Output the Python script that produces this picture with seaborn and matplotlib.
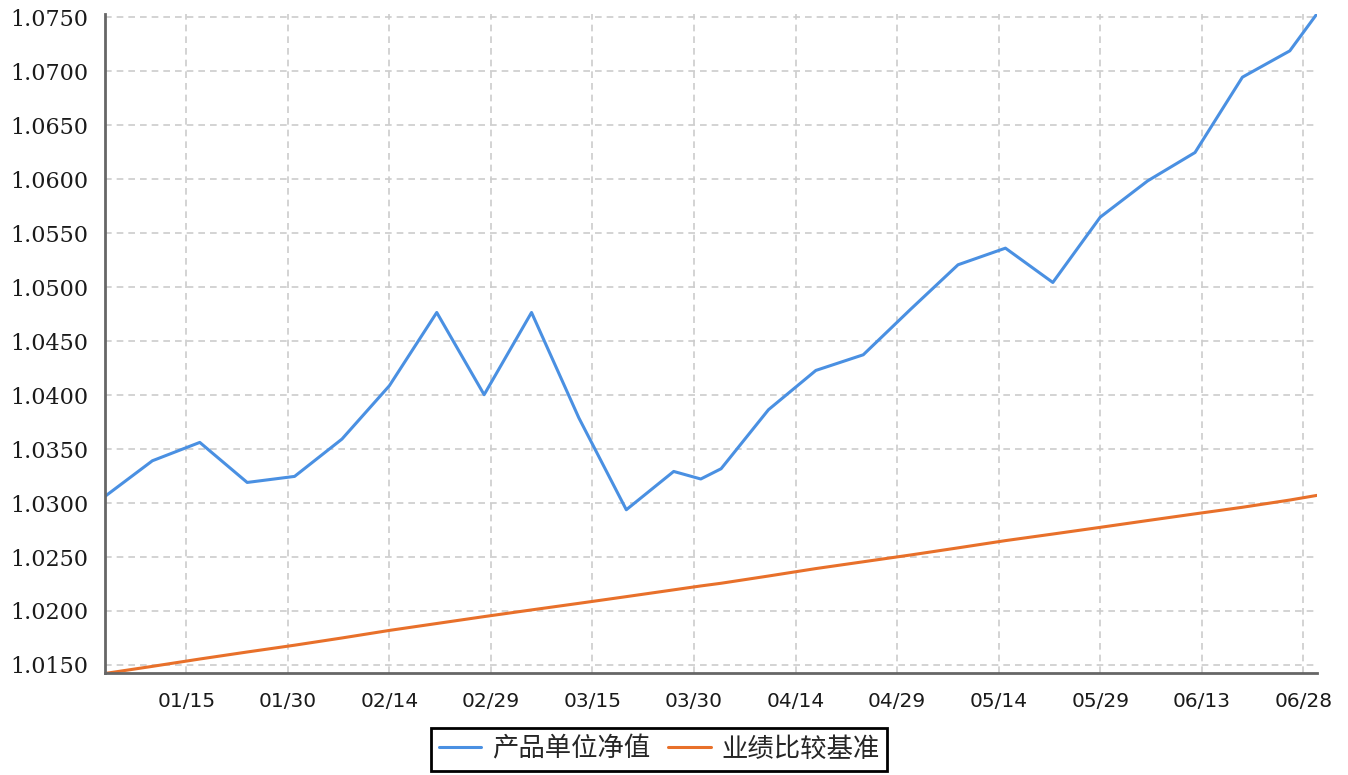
import pandas as pd
import matplotlib
matplotlib.use('Agg')
import matplotlib.pyplot as plt
import matplotlib.dates as mdates
import matplotlib.ticker as mticker
import seaborn as sns

# Data (2024, weekly + month-end points)
dates = ['2024-01-03', '2024-01-10', '2024-01-17', '2024-01-24', '2024-01-31',
         '2024-02-07', '2024-02-14', '2024-02-21', '2024-02-28', '2024-03-06',
         '2024-03-13', '2024-03-20', '2024-03-27', '2024-03-31', '2024-04-03',
         '2024-04-10', '2024-04-17', '2024-04-24', '2024-05-01', '2024-05-08',
         '2024-05-15', '2024-05-22', '2024-05-29', '2024-06-05', '2024-06-12',
         '2024-06-19', '2024-06-26', '2024-06-30']

nav = [1.03062, 1.03392, 1.03562, 1.03191, 1.03247,
       1.03593, 1.04087, 1.04766, 1.04004, 1.04766,
       1.03788, 1.02938, 1.03293, 1.03223, 1.03318,
       1.03865, 1.04229, 1.04374, 1.04796, 1.05208,
       1.05362, 1.05044, 1.05649, 1.05985, 1.06248,
       1.06946, 1.07190, 1.07532]

benchmark = [1.01421, 1.01487, 1.01555, 1.01620, 1.01683,
             1.01750, 1.01820, 1.01884, 1.01948, 1.02010,
             1.02071, 1.02133, 1.02196, 1.02232, 1.02257,
             1.02324, 1.02393, 1.02456, 1.02519, 1.02585,
             1.02652, 1.02713, 1.02775, 1.02838, 1.02900,
             1.02961, 1.03028, 1.03071]

series_names = ['产品单位净值', '业绩比较基准']
colors = ['#4a90e2', '#e8702a']
tick_labels = ['01/15', '01/30', '02/14', '02/29', '03/15', '03/30',
               '04/14', '04/29', '05/14', '05/29', '06/13', '06/28']

# long-form table for seaborn
df = pd.concat([
    pd.DataFrame({'date': pd.to_datetime(dates), 'value': nav, 'series': series_names[0]}),
    pd.DataFrame({'date': pd.to_datetime(dates), 'value': benchmark, 'series': series_names[1]}),
])

sns.set_style('white')
plt.rcParams['font.family'] = ['DejaVu Sans', 'Noto Sans CJK SC']

fig = plt.figure(figsize=(13.48, 7.75), dpi=100)
ax = fig.add_axes([0.0779, 0.131, 0.899, 0.851])

sns.lineplot(data=df, x='date', y='value', hue='series', hue_order=series_names,
             palette=dict(zip(series_names, colors)), linewidth=2.2, ax=ax)

ax.set_xlim(pd.Timestamp(dates[0]), pd.Timestamp(dates[-1]))
ax.set_ylim(min(benchmark), max(nav))

tick_dates = [pd.Timestamp('2024/' + t) for t in tick_labels]
ax.set_xticks(tick_dates)
ax.xaxis.set_major_formatter(mdates.DateFormatter('%m/%d'))
ax.yaxis.set_major_locator(mticker.MultipleLocator(0.005))
ax.yaxis.set_major_formatter(mticker.FuncFormatter(lambda v, p: f'{v:.4f}'))

ax.set_xlabel('')
ax.set_ylabel('')

for s in ['top', 'right']:
    ax.spines[s].set_visible(False)
for s in ['left', 'bottom']:
    ax.spines[s].set_color('#666666')
    ax.spines[s].set_linewidth(2)

ax.tick_params(axis='both', direction='out', length=6, width=1.2, color='#666666')
ax.tick_params(axis='x', labelsize=14.5, pad=7, labelcolor='#1a1a1a')
ax.tick_params(axis='y', pad=6, labelcolor='#1a1a1a')
for lbl in ax.get_yticklabels():
    lbl.set_fontfamily('DejaVu Serif')
    lbl.set_fontsize(16)

ax.grid(True, color='#cccccc', linestyle=(0, (4, 3)), linewidth=1.2)
ax.set_axisbelow(True)

handles, labels = ax.get_legend_handles_labels()
ax.get_legend().remove()
leg = ax.legend(handles, labels, loc='upper center', bbox_to_anchor=(0.489, 0.078),
                bbox_transform=fig.transFigure, ncol=2, frameon=True, fancybox=False,
                framealpha=1, edgecolor='black', borderpad=0.3, handlelength=1.6,
                handletextpad=0.4, columnspacing=0.7,
                prop={'family': ['Noto Sans CJK SC', 'DejaVu Sans'], 'size': 19})
leg.get_frame().set_linewidth(2)

fig.savefig('out.png', dpi=100)
